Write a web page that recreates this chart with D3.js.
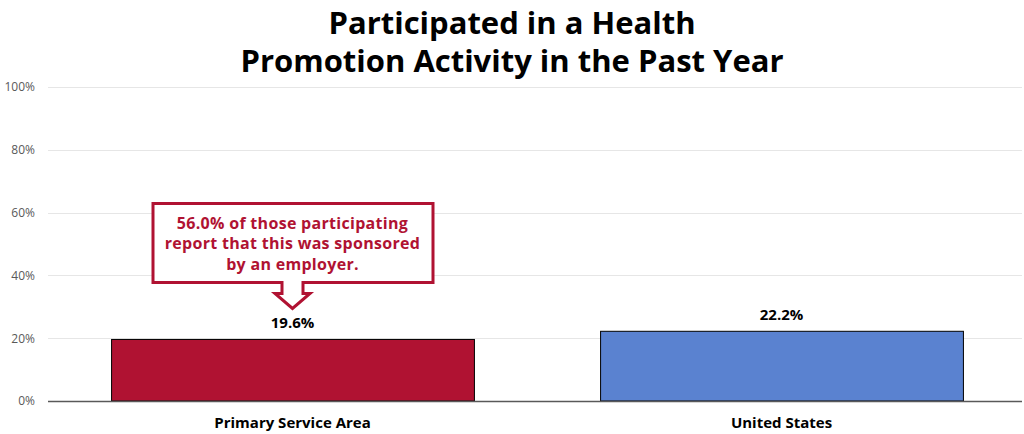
<!DOCTYPE html>
<html>
<head>
<meta charset="utf-8">
<script src="https://cdn.jsdelivr.net/npm/d3@7/dist/d3.min.js"></script>
<style>
  html, body { margin: 0; padding: 0; background: #fff; }
  svg { display: block; }
</style>
</head>
<body>
<svg id="chart" width="1024" height="434"></svg>
<script>
// Chart data
const categories = ["Primary Service Area", "United States"];
const values = [19.6, 22.2];
const barColors = ["#B01232", "#5A82D0"];
const yTicks = [0, 20, 40, 60, 80, 100];
const titleLines = ["Participated in a Health", "Promotion Activity in the Past Year"];
const calloutLines = ["56.0% of those participating", "report that this was sponsored", "by an employer."];

const W = 1024, H = 434;
const margin = { left: 48, right: -2, top: 87, bottom: 33 };
const svg = d3.select("#chart");
const font = "'Open Sans', 'Noto Sans', sans-serif";

const x = d3.scaleBand()
  .domain(categories)
  .range([margin.left, W - margin.right])
  .paddingInner(0.258)
  .paddingOuter(0.129);

const y = d3.scaleLinear()
  .domain([0, 100])
  .range([H - margin.bottom, margin.top]);

// Title
svg.append("g").selectAll("text")
  .data(titleLines)
  .join("text")
  .attr("x", 512)
  .attr("y", (d, i) => 34 + i * 38)
  .attr("text-anchor", "middle")
  .attr("font-family", font)
  .attr("font-weight", 700)
  .attr("font-size", 31)
  .attr("fill", "#000")
  .text(d => d);

// Gridlines
svg.append("g").selectAll("line")
  .data(yTicks.filter(t => t > 0))
  .join("line")
  .attr("x1", margin.left)
  .attr("x2", 1022)
  .attr("y1", d => Math.round(y(d)) + 0.5)
  .attr("y2", d => Math.round(y(d)) + 0.5)
  .attr("stroke", "#e6e6e6")
  .attr("stroke-width", 1);

// Y axis labels
const yAxis = d3.axisLeft(y)
  .tickValues(yTicks)
  .tickFormat(d => d + "%")
  .tickSize(0)
  .tickPadding(13);
const yG = svg.append("g")
  .attr("transform", `translate(${margin.left},0)`)
  .call(yAxis);
yG.select(".domain").remove();
yG.selectAll("text")
  .attr("font-family", font)
  .attr("font-size", 12)
  .attr("fill", "#595959");

// Bars
svg.append("g").selectAll("rect")
  .data(values)
  .join("rect")
  .attr("x", (d, i) => x(categories[i]) + 0.5)
  .attr("y", d => y(d))
  .attr("width", x.bandwidth())
  .attr("height", d => y(0) - y(d))
  .attr("fill", (d, i) => barColors[i])
  .attr("stroke", "#000")
  .attr("stroke-width", 1);

// Baseline
svg.append("line")
  .attr("x1", margin.left)
  .attr("x2", 1022)
  .attr("y1", Math.round(y(0)) + 0.5)
  .attr("y2", Math.round(y(0)) + 0.5)
  .attr("stroke", "#595959")
  .attr("stroke-width", 1.5);

// Value labels
svg.append("g").selectAll("text")
  .data(values)
  .join("text")
  .attr("x", (d, i) => x(categories[i]) + x.bandwidth() / 2)
  .attr("y", d => y(d) - 11)
  .attr("text-anchor", "middle")
  .attr("font-family", font)
  .attr("font-weight", 700)
  .attr("font-size", 15)
  .attr("fill", "#000")
  .text(d => d.toFixed(1) + "%");

// Category labels
const xAxis = d3.axisBottom(x).tickSize(0).tickPadding(16);
const xG = svg.append("g")
  .attr("transform", `translate(0,${y(0)})`)
  .call(xAxis);
xG.select(".domain").remove();
xG.selectAll("text")
  .attr("font-family", font)
  .attr("font-weight", 700)
  .attr("font-size", 15)
  .attr("fill", "#000");

// Callout with down arrow above the first bar
const cx = x(categories[0]) + x.bandwidth() / 2;
const tipY = y(values[0]) - 31;
const box = { left: cx - 139.5, right: cx + 140.5, top: tipY - 105, bottom: tipY - 26 };
const shaftHalf = 10.5, headHalf = 17.5, headTop = tipY - 15;
const p = d3.path();
p.moveTo(box.left, box.top);
p.lineTo(box.right, box.top);
p.lineTo(box.right, box.bottom);
p.lineTo(cx + shaftHalf, box.bottom);
p.lineTo(cx + shaftHalf, headTop);
p.lineTo(cx + headHalf, headTop);
p.lineTo(cx, tipY);
p.lineTo(cx - headHalf, headTop);
p.lineTo(cx - shaftHalf, headTop);
p.lineTo(cx - shaftHalf, box.bottom);
p.lineTo(box.left, box.bottom);
p.closePath();
svg.append("path")
  .attr("d", p.toString())
  .attr("fill", "#fff")
  .attr("stroke", "#B01232")
  .attr("stroke-width", 3)
  .attr("stroke-linejoin", "miter");

svg.append("g").selectAll("text")
  .data(calloutLines)
  .join("text")
  .attr("x", cx)
  .attr("y", (d, i) => box.top + 25.5 + i * 20.5)
  .attr("text-anchor", "middle")
  .attr("font-family", font)
  .attr("font-weight", 700)
  .attr("font-size", 16)
  .attr("letter-spacing", 0.3)
  .attr("fill", "#B01232")
  .text(d => d);
</script>
</body>
</html>
